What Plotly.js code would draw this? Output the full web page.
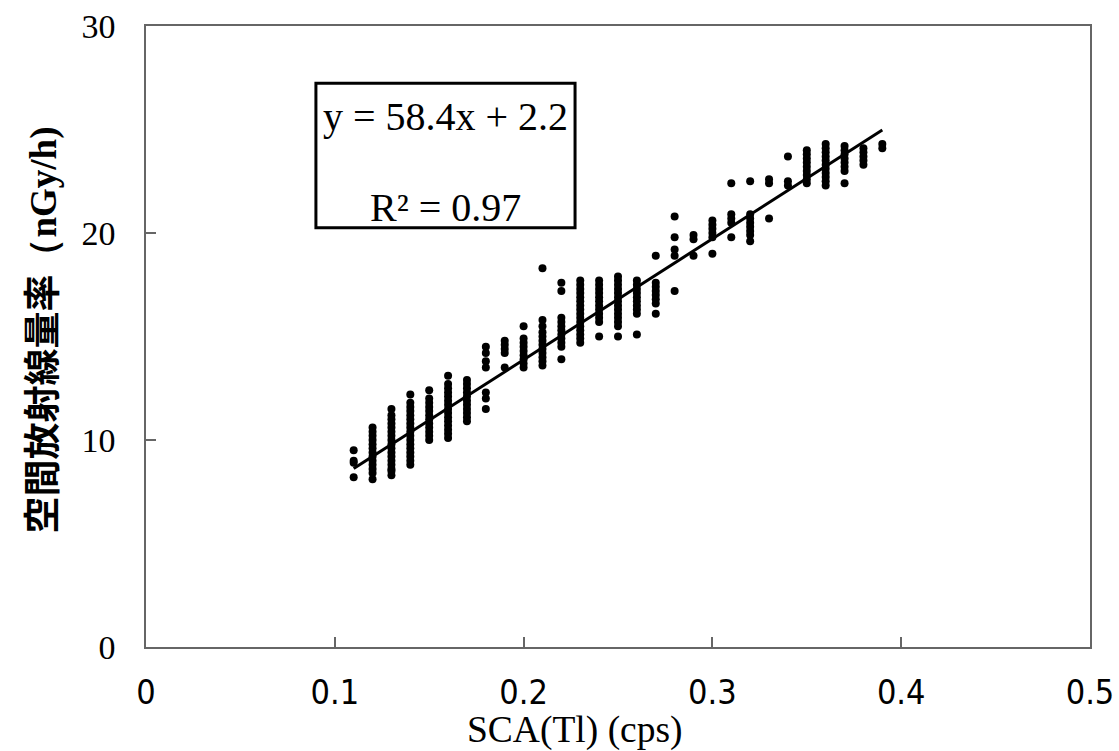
<!DOCTYPE html>
<html>
<head>
<meta charset="utf-8">
<script src="https://cdn.plot.ly/plotly-3.0.1.min.js"></script>
<style>html,body{margin:0;padding:0;background:#fff;}#chart{width:1119px;height:751px;}</style>
</head>
<body>
<div id="chart"></div>
<script>
// Measured columns: SCA(Tl) cps value and the dose rates observed at that value
const colX = [0.11,0.12,0.13,0.14,0.15,0.16,0.17,0.18,0.19,0.20,0.21,0.22,0.23,0.24,0.25,0.26,0.27,0.28,0.29,0.30,0.31,0.32,0.33,0.34,0.35,0.36,0.37,0.38,0.39];
const colY = [
  [9.5,9.0,8.9,8.2],
  [10.6,10.4,10.2,10.0,9.8,9.6,9.4,9.2,9.0,8.8,8.6,8.4,8.1],
  [11.5,11.2,11.0,10.8,10.6,10.4,10.2,10.0,9.8,9.6,9.4,9.2,9.0,8.8,8.6,8.5,8.3],
  [12.2,11.8,11.6,11.4,11.2,11.0,10.8,10.6,10.4,10.2,10.0,9.8,9.6,9.4,9.2,9.0,8.8],
  [12.4,12.0,11.8,11.6,11.4,11.2,11.0,10.8,10.6,10.4,10.2,10.0],
  [13.1,12.7,12.5,12.3,12.1,11.9,11.7,11.5,11.3,11.1,10.9,10.7,10.5,10.3,10.1],
  [12.9,12.7,12.5,12.3,12.1,11.9,11.7,11.5,11.3,11.1,10.9],
  [14.5,14.2,13.8,13.5,12.3,12.0,11.5],
  [14.8,14.6,14.4,14.2,13.5],
  [15.5,14.9,14.7,14.5,14.3,14.1,13.9,13.7,13.5],
  [18.3,15.8,15.5,15.2,15.0,14.8,14.6,14.4,14.2,14.0,13.8,13.6],
  [17.6,17.2,15.9,15.7,15.5,15.3,15.1,14.9,14.7,14.5,13.9],
  [17.7,17.5,17.3,17.1,16.9,16.7,16.5,16.3,16.1,15.9,15.7,15.5,15.3,15.1,14.9,14.7],
  [17.7,17.5,17.3,17.1,16.9,16.7,16.5,16.3,16.1,15.9,15.7,15.0],
  [17.9,17.7,17.5,17.3,17.1,16.9,16.7,16.5,16.3,16.1,15.9,15.7,15.5,15.0],
  [17.7,17.5,17.3,17.1,16.9,16.7,16.5,16.3,16.1,15.1],
  [18.9,17.6,17.4,17.2,17.0,16.8,16.6,16.1],
  [20.8,19.8,19.2,18.9,17.2],
  [19.9,19.7,18.9],
  [20.6,20.4,20.2,20.0,19.8,19.0],
  [22.4,20.9,20.7,20.5,19.8],
  [22.5,20.9,20.7,20.5,20.3,20.1,19.9,19.6],
  [22.6,22.4,20.7],
  [23.7,22.5,22.3],
  [24.0,23.8,23.6,23.4,23.2,23.0,22.8,22.6,22.4],
  [24.3,24.1,23.9,23.7,23.5,23.3,23.1,22.9,22.7,22.5,22.3],
  [24.2,24.0,23.8,23.6,23.4,23.2,23.0,22.4],
  [24.1,23.9,23.7,23.5,23.3],
  [24.3,24.1]
];
// Trend line endpoints (y = 58.4x + 2.2)
const trendX = [0.11, 0.39];
const trendY = [8.62, 24.98];
const xTicks = [0,0.1,0.2,0.3,0.4,0.5];
const xTickText = ['0','0.1','0.2','0.3','0.4','0.5'];
const yTicks = [0,10,20,30];
const yTickText = ['0','10','20','30'];
const xTitle = 'SCA(Tl) (cps)';
const yTitleJa = '空間放射線量率';
const yTitleUnit = '（nGy/h)';
const eqText = 'y = 58.4x + 2.2';
const r2Text = 'R² = 0.97';

const px = [], py = [];
colX.forEach((x, i) => colY[i].forEach(v => { px.push(x); py.push(v); }));

const serif = 'Liberation Serif, Times New Roman, serif';
const data = [
  {x: px, y: py, type: 'scatter', mode: 'markers',
   marker: {color: '#000', size: 8}, hoverinfo: 'x+y', showlegend: false},
  {x: trendX, y: trendY, type: 'scatter', mode: 'lines',
   line: {color: '#000', width: 3}, showlegend: false}
];
const layout = {
  width: 1119, height: 751,
  margin: {l: 146, r: 29, t: 26, b: 104},
  paper_bgcolor: '#fff', plot_bgcolor: '#fff',
  showlegend: false,
  xaxis: {
    range: [0, 0.5], tickvals: xTicks, ticktext: xTickText,
    showgrid: false, zeroline: false,
    showline: true, mirror: true, linecolor: '#666', linewidth: 1.5,
    ticks: 'inside', ticklen: 10, tickcolor: '#666', tickwidth: 1.5,
    ticklabelstandoff: 14,
    tickfont: {family: 'Liberation Sans Narrow, Arial Narrow, DejaVu Sans Condensed, Liberation Sans, sans-serif', size: 34, color: '#000'}
  },
  yaxis: {
    range: [0, 30], tickvals: yTicks, ticktext: yTickText,
    showgrid: false, zeroline: false,
    showline: true, mirror: true, linecolor: '#666', linewidth: 1.5,
    ticks: 'inside', ticklen: 10, tickcolor: '#666', tickwidth: 1.5,
    ticklabelstandoff: 22,
    tickfont: {family: serif, size: 34, color: '#000'}
  },
  shapes: [
    {type: 'rect', xref: 'paper', yref: 'paper', x0: 0.180, x1: 0.4545, y0: 0.675, y1: 0.908,
     line: {color: '#000', width: 3}, fillcolor: 'rgba(0,0,0,0)'}
  ],
  annotations: [
    {xref: 'paper', yref: 'paper', x: 0.317, y: 0.855, xanchor: 'center', yanchor: 'middle',
     text: eqText, showarrow: false, font: {family: serif, size: 40, color: '#000'}},
    {xref: 'paper', yref: 'paper', x: 0.317, y: 0.7085, xanchor: 'center', yanchor: 'middle',
     text: r2Text, showarrow: false, font: {family: serif, size: 40, color: '#000'}},
    {xref: 'paper', yref: 'paper', x: 0.4545, y: -0.134, xanchor: 'center', yanchor: 'middle',
     text: xTitle, showarrow: false, font: {family: serif, size: 37.5, color: '#000'}},
    {xref: 'paper', yref: 'paper', x: -0.112, y: 0.51, xanchor: 'center', yanchor: 'middle',
     textangle: -90, showarrow: false,
     text: '<b><span style="font-family:\'Noto Sans CJK JP\'">' + yTitleJa + '</span><span style="font-family:\'Liberation Serif\'">' + yTitleUnit + '</span></b>',
     font: {family: 'Noto Sans CJK JP', size: 37, color: '#000'}}
  ]
};
Plotly.newPlot('chart', data, layout, {displayModeBar: false});
</script>
</body>
</html>
